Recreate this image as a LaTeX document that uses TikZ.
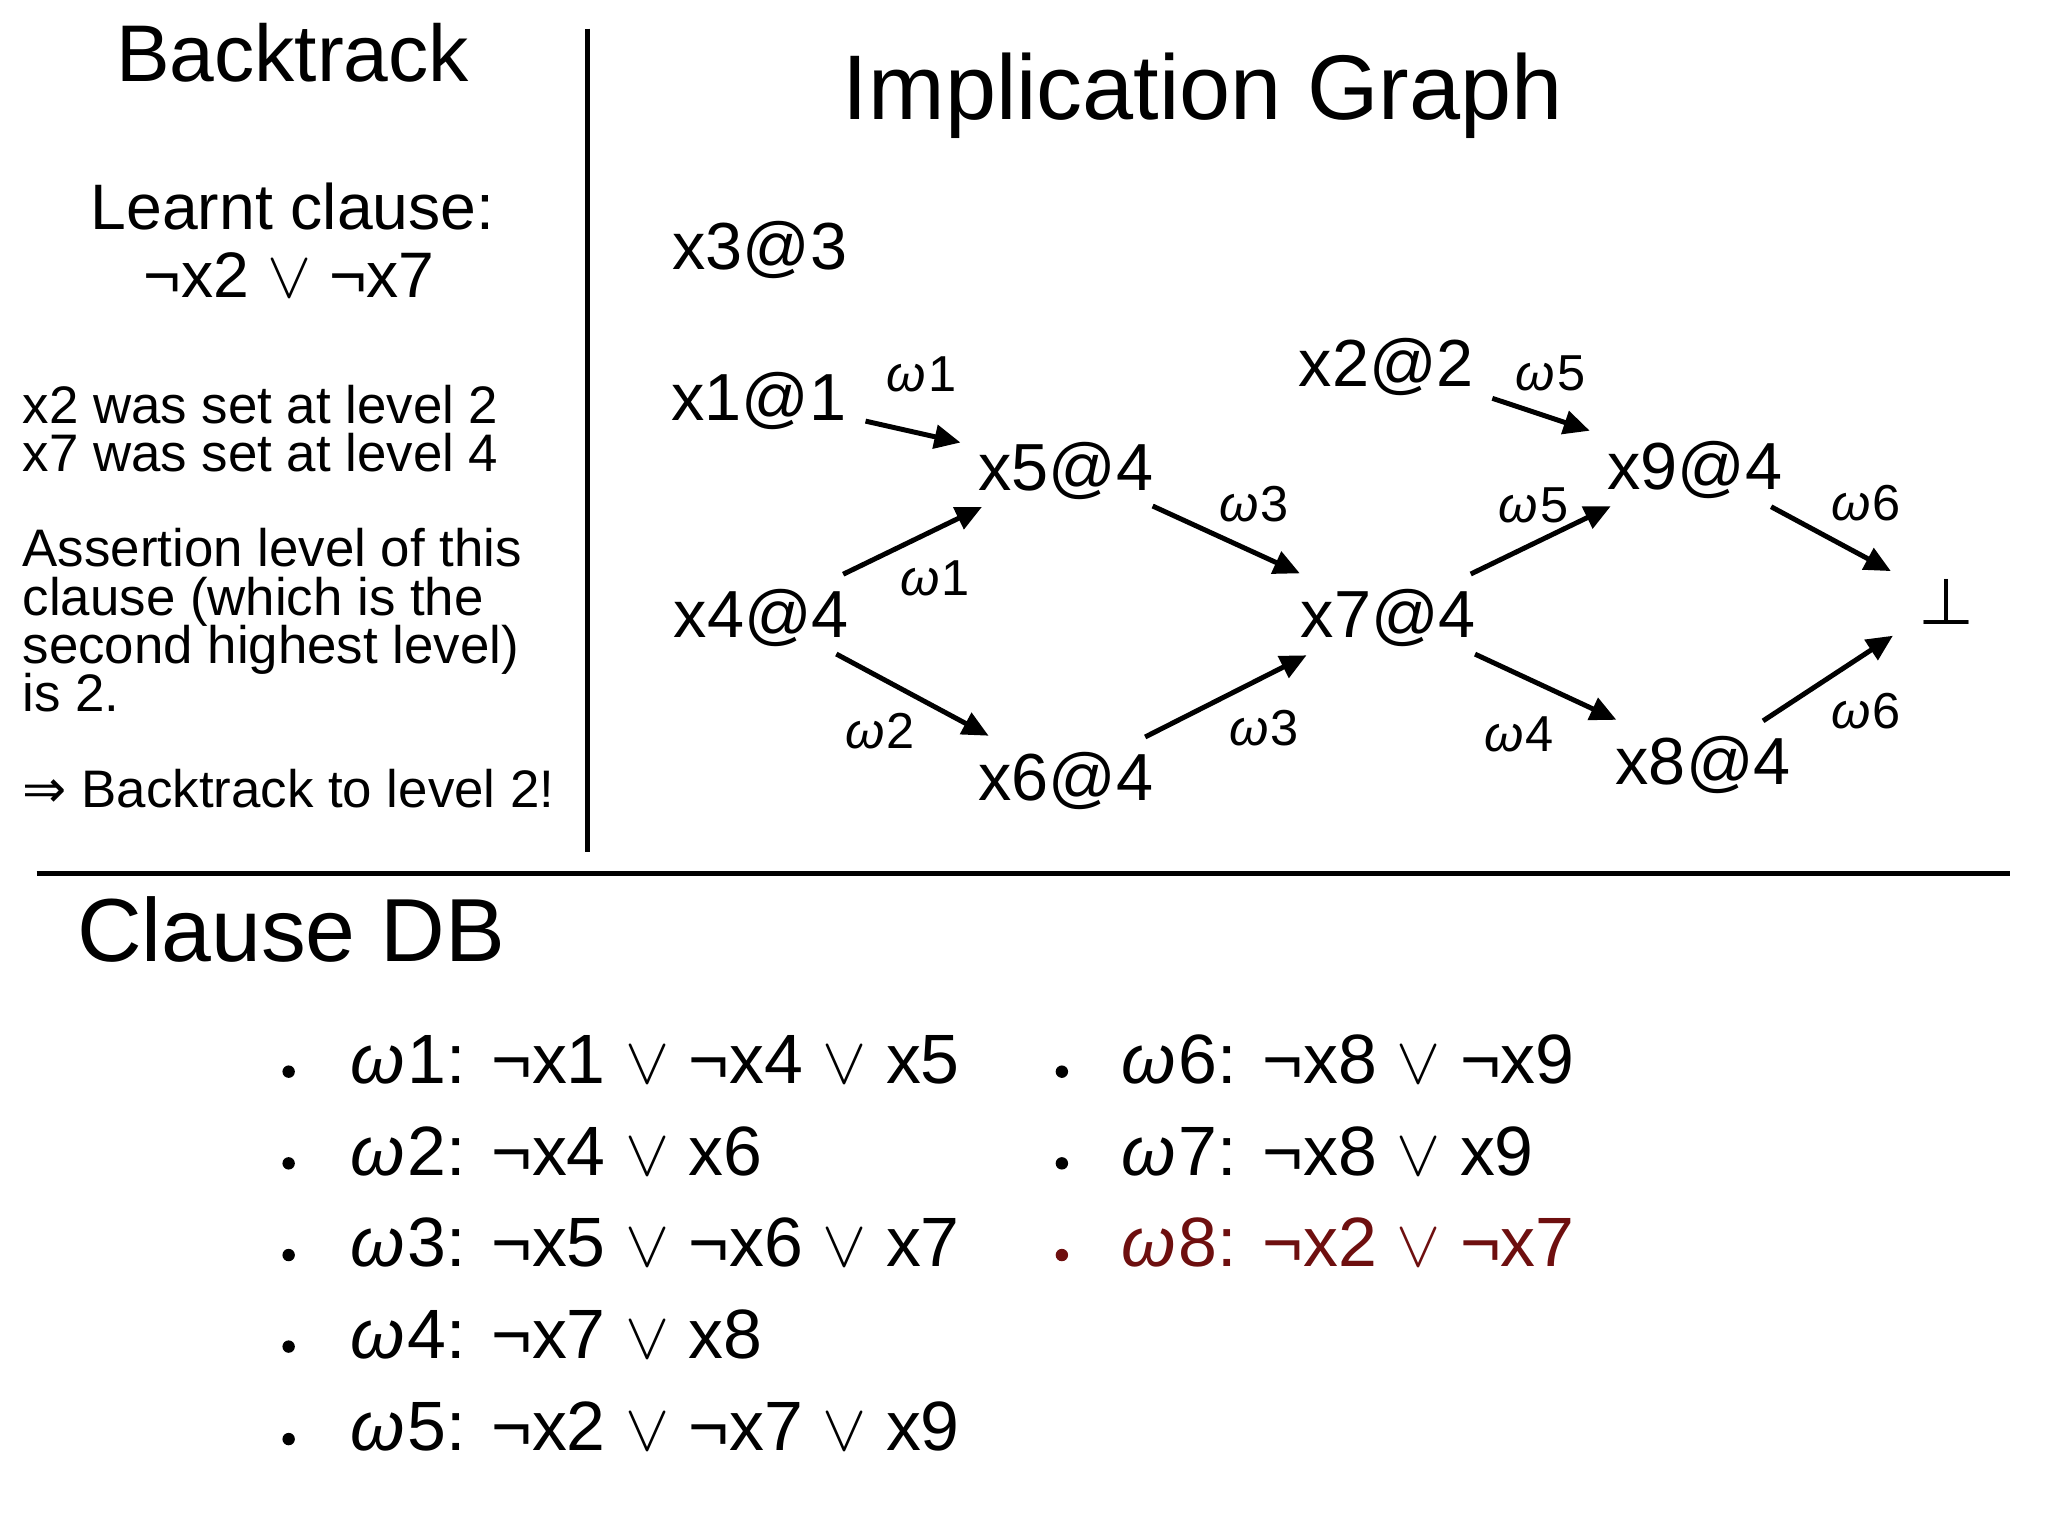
\documentclass[tikz,border=0pt]{standalone}
\usepackage{fontspec}
\setmainfont{Liberation Sans}
\newfontfamily\symf{DejaVu Sans}
\usetikzlibrary{arrows.meta}
\definecolor{clauseRed}{RGB}{110,15,15}
\newcommand{\myor}{\ensuremath{\vee}}
\newcommand{\myom}{\textit{ω}\kern0.04em}
\begin{document}
\begin{tikzpicture}[x=0.01cm,y=-0.01cm,
  every node/.style={inner sep=0pt,outer sep=0pt},
  bigtitle/.style={font=\fontsize{17.5}{20}\selectfont,anchor=base},
  learnt/.style={font=\fontsize{14}{16}\selectfont,anchor=base},
  lefttxt/.style={font=\fontsize{11.5}{13}\selectfont,anchor=base west},
  gnode/.style={font=\fontsize{14.5}{17}\selectfont,text height=0.365cm,text depth=0pt,anchor=center},
  elabel/.style={font=\fontsize{11}{13}\selectfont,anchor=base},
  arr/.style={-{Triangle[length=0.2cm,width=0.18cm]},line width=0.038cm},
  clausetxt/.style={font=\fontsize{15.2}{18}\selectfont,anchor=base west},
  bulletdot/.style={circle,fill=black,minimum size=0.095cm,inner sep=0pt},
  divider/.style={line width=0.036cm}
]
\useasboundingbox[fill=white] (0,0) rectangle (1568,1176);

% ---------- left panel ----------
\node[bigtitle] (bt) at (224,62.5) {Backtrack};
\node[learnt] (lc1) at (224,176) {Learnt clause:};
\node[learnt] (lc2) at (221.5,228) {¬x2 \myor{} ¬x7};
\node[lefttxt] (t1) at (17.4,324.6) {x2 was set at level 2};
\node[lefttxt] (t2) at (17.4,361) {x7 was set at level 4};
\node[lefttxt] (t3) at (17.4,434) {Assertion level of this};
\node[lefttxt] (t4) at (17.4,471) {clause (which is the};
\node[lefttxt] (t5) at (17.4,508) {second highest level)};
\node[lefttxt] (t6) at (17.4,545) {is 2.};
\node[lefttxt] (t7) at (17.4,618) {{\symf ⇒} Backtrack to level 2!};

% dividers
\coordinate (vtop) at (450,22);
\coordinate (vbot) at (450,652);
\draw[divider] (vtop) -- (vbot);
\coordinate (hleft) at (28,668.6);
\coordinate (hright) at (1539,668.6);
\draw[divider] (hleft) -- (hright);

% ---------- implication graph ----------
\node[font=\fontsize{20}{24}\selectfont,anchor=base] (ig) at (921,91.4) {Implication Graph};

\node[gnode] (x3) at (582,188) {x3@3};
\node[gnode] (x1) at (581,304) {x1@1};
\node[gnode] (x4) at (583,470) {x4@4};
\node[gnode] (x5) at (816,357) {x5@4};
\node[gnode] (x6) at (816,595) {x6@4};
\node[gnode] (x7) at (1063,470) {x7@4};
\node[gnode] (x2) at (1061.5,278) {x2@2};
\node[gnode] (x9) at (1297.5,356.5) {x9@4};
\node[gnode] (x8) at (1304,582) {x8@4};
\node[gnode,font=\symf\fontsize{14}{17}\selectfont] (bot) at (1490,460) {⊥};

\draw[arr,shorten <=0.837cm,shorten >=0.826cm] (x1.center) -- (x5.center);
\draw[arr,shorten <=0.695cm,shorten >=0.713cm] (x4.center) -- (x5.center);
\draw[arr,shorten <=0.65cm,shorten >=0.67cm] (x4.center) -- (x6.center);
\draw[arr,shorten <=0.731cm,shorten >=0.745cm] (x5.center) -- (x7.center);
\draw[arr,shorten <=0.681cm,shorten >=0.702cm] (x6.center) -- (x7.center);
\draw[arr,shorten <=0.854cm,shorten >=0.846cm] (x2.center) -- (x9.center);
\draw[arr,shorten <=0.70cm,shorten >=0.714cm] (x7.center) -- (x9.center);
\draw[arr,shorten <=0.731cm,shorten >=0.732cm] (x7.center) -- (x8.center);
\draw[arr,shorten <=0.664cm,shorten >=0.48cm] (x9.center) -- (bot.center);
\draw[arr,shorten <=0.548cm,shorten >=0.487cm] (x8.center) -- (bot.center);

\node[elabel] (l1) at (705.5,300) {\myom1};
\node[elabel] (l2) at (716,455.6) {\myom1};
\node[elabel] (l3) at (674,573) {\myom2};
\node[elabel] (l4) at (960,399) {\myom3};
\node[elabel] (l5) at (968,570.5) {\myom3};
\node[elabel] (l6) at (1187,299) {\myom5};
\node[elabel] (l7) at (1174,399.7) {\myom5};
\node[elabel] (l8) at (1163,575) {\myom4};
\node[elabel] (l9) at (1428.5,398.7) {\myom6};
\node[elabel] (l10) at (1428.5,558) {\myom6};

% ---------- clause DB ----------
\node[font=\fontsize{19.5}{23}\selectfont,anchor=base west] (cdb) at (59,736) {Clause DB};

\node[bulletdot] (b1) at (221,820.5) {};
\node[bulletdot] (b2) at (221,890.7) {};
\node[bulletdot] (b3) at (221,960.9) {};
\node[bulletdot] (b4) at (221,1031) {};
\node[bulletdot] (b5) at (221,1101.8) {};
\node[bulletdot] (b6) at (813,820.5) {};
\node[bulletdot] (b7) at (813,890.7) {};
\node[bulletdot,fill=clauseRed] (b8) at (813,960.9) {};

\node[clausetxt] (c1) at (268,829.5) {\myom1: ¬x1 \myor{} ¬x4 \myor{} x5};
\node[clausetxt] (c2) at (268,899.7) {\myom2: ¬x4 \myor{} x6};
\node[clausetxt] (c3) at (268,969.9) {\myom3: ¬x5 \myor{} ¬x6 \myor{} x7};
\node[clausetxt] (c4) at (268,1040) {\myom4: ¬x7 \myor{} x8};
\node[clausetxt] (c5) at (268,1110.8) {\myom5: ¬x2 \myor{} ¬x7 \myor{} x9};
\node[clausetxt] (c6) at (858.6,829.5) {\myom6: ¬x8 \myor{} ¬x9};
\node[clausetxt] (c7) at (858.6,899.7) {\myom7: ¬x8 \myor{} x9};
\node[clausetxt,text=clauseRed] (c8) at (858.6,969.9) {\myom8: ¬x2 \myor{} ¬x7};
\end{tikzpicture}
\end{document}
